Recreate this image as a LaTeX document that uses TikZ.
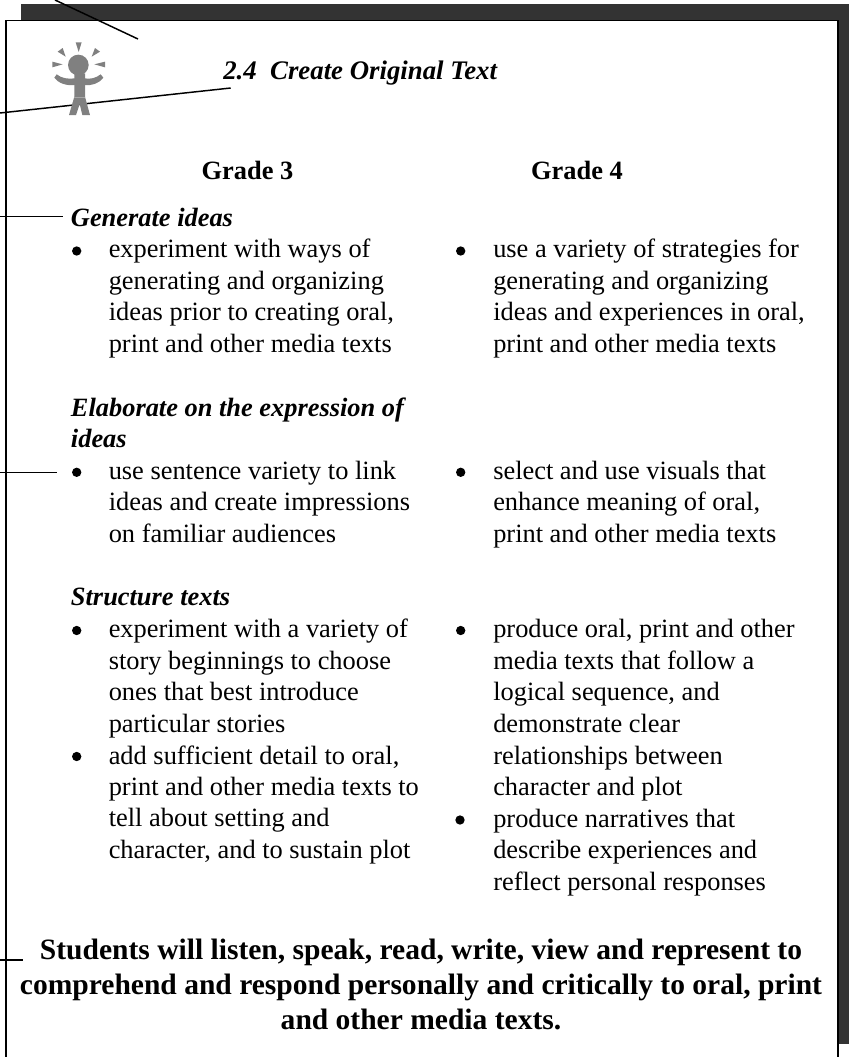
\documentclass[tikz,border=0pt]{standalone}
\usepackage{fontspec}
\setmainfont{Liberation Serif}
\definecolor{darkbar}{HTML}{333333}
\definecolor{figgray}{HTML}{808080}
\tikzset{
  body/.style={anchor=base west,inner sep=0pt,font=\fontsize{19.8pt}{24pt}\selectfont},
  subhead/.style={body,font=\fontsize{19.8pt}{24pt}\selectfont\bfseries\itshape},
  gradehead/.style={anchor=base,inner sep=0pt,font=\fontsize{19.8pt}{24pt}\selectfont\bfseries},
  title/.style={anchor=base west,inner sep=0pt,font=\fontsize{20.1pt}{24pt}\selectfont\bfseries\itshape},
  closing/.style={anchor=base,inner sep=0pt,font=\fontsize{22.15pt}{27pt}\selectfont\bfseries},
  bulletdot/.style={circle,fill=black,inner sep=0pt,minimum size=7pt},
  leader/.style={draw=black,line width=1.1pt},
  figpart/.style={fill=figgray,draw=none}
}
\begin{document}
\begin{tikzpicture}[x=0.75pt,y=-0.75pt]
\useasboundingbox (0,0) rectangle (849,1057);
% leaders under figure
\coordinate (b0) at (0,113);
\coordinate (b1) at (230.7,88);
\draw[leader] (b0) -- (b1);
% frame
\fill[darkbar] (21,4) rectangle (849,20);
\fill[darkbar] (838,4) rectangle (849,1044);
\draw[black,line width=1.1pt] (6,1057) -- (6,20.5) -- (838,20.5) -- (838,1057);
% figure
\begin{scope}[shift={(40,30)},x=0.25pt,y=-0.25pt]
\fill[figpart] (115,105) circle[radius=31];
\fill[figpart] (103,130) -- (135,130) -- (135,200) -- (150,255) -- (127,255) -- (119,222) -- (108,255) -- (87,255) -- (103,200) -- cycle;
\fill[figpart] (50,133) .. controls (65,145) and (85,148) .. (105,145) -- (105,165) .. controls (80,168) and (55,160) .. (43,143) -- cycle;
\fill[figpart] (182,133) .. controls (167,145) and (150,148) .. (133,145) -- (133,165) .. controls (155,168) and (178,160) .. (190,143) -- cycle;
\fill[figpart] (107,37) -- (125,37) -- (116,66) -- cycle;
\fill[figpart] (53,65) -- (68,54) -- (77,80) -- cycle;
\fill[figpart] (180,65) -- (165,54) -- (155,80) -- cycle;
\fill[figpart] (37,95) -- (37,112) -- (68,103) -- cycle;
\fill[figpart] (195,95) -- (195,112) -- (163,103) -- cycle;
\draw[color=figgray!70,line width=0.3pt] (103,202) -- (135,202);
\end{scope}
% text
\node[title] (ttl) at (223,79.3) {2.4\ \ Create Original Text};
\node[gradehead] (g3) at (247.5,179) {Grade 3};
\node[gradehead] (g4) at (577,179) {Grade 4};
\node[subhead] (h1) at (70.7,226) {Generate ideas};
\node[body] at (108.5,257.3) {experiment with ways of};
\node[body] at (108.5,289) {generating and organizing};
\node[body] at (108.5,320.7) {ideas prior to creating oral,};
\node[body] at (108.5,352.3) {print and other media texts};
\node[body] at (493,257.3) {use a variety of strategies for};
\node[body] at (493,289) {generating and organizing};
\node[body] at (493,320.7) {ideas and experiences in oral,};
\node[body] at (493,352.3) {print and other media texts};
\node[subhead] at (70.7,416) {Elaborate on the expression of};
\node[subhead] (h2) at (70.7,447) {ideas};
\node[body] at (108.5,479.3) {use sentence variety to link};
\node[body] at (108.5,510.7) {ideas and create impressions};
\node[body] at (108.5,542) {on familiar audiences};
\node[body] at (493,479.3) {select and use visuals that};
\node[body] at (493,510.7) {enhance meaning of oral,};
\node[body] at (493,542) {print and other media texts};
\node[subhead] (h3) at (70.7,605) {Structure texts};
\node[body] at (108.5,637.5) {experiment with a variety of};
\node[body] at (108.5,669) {story beginnings to choose};
\node[body] at (108.5,700.3) {ones that best introduce};
\node[body] at (108.5,732) {particular stories};
\node[body] at (108.5,764) {add sufficient detail to oral,};
\node[body] at (108.5,795.3) {print and other media texts to};
\node[body] at (108.5,826.7) {tell about setting and};
\node[body] at (108.5,858) {character, and to sustain plot};
\node[body] at (493,637.5) {produce oral, print and other};
\node[body] at (493,669) {media texts that follow a};
\node[body] at (493,700.3) {logical sequence, and};
\node[body] at (493,732) {demonstrate clear};
\node[body] at (493,764) {relationships between};
\node[body] at (493,795.3) {character and plot};
\node[body] at (493,827) {produce narratives that};
\node[body] at (493,858.7) {describe experiences and};
\node[body] at (493,890) {reflect personal responses};
\node[closing] (c1) at (421,959.3) {Students will listen, speak, read, write, view and represent to};
\node[closing] (c2) at (421,994) {comprehend and respond personally and critically to oral, print};
\node[closing] (c3) at (421,1029) {and other media texts.};
% bullets
\foreach \px/\py in {76.7/251,76.7/472.3,76.7/630.5,76.7/756.5,460.7/251,460.7/472.3,460.7/630.5,460/820}{
  \node[bulletdot] at (\px,\py) {};
}
% leaders
\coordinate (a0) at (55,0);
\coordinate (a1) at (138,39);
\coordinate (c0) at (0,216.7);
\coordinate (c1e) at (63,216.7);
\coordinate (d0) at (0,472.7);
\coordinate (d1) at (56.7,472.7);
\coordinate (e0) at (0,960);
\coordinate (e1) at (23,960);
\draw[leader] (a0) -- (a1);
\draw[leader] (c0) -- (c1e);
\draw[leader] (d0) -- (d1);
\draw[leader] (e0) -- (e1);
\end{tikzpicture}
\end{document}
